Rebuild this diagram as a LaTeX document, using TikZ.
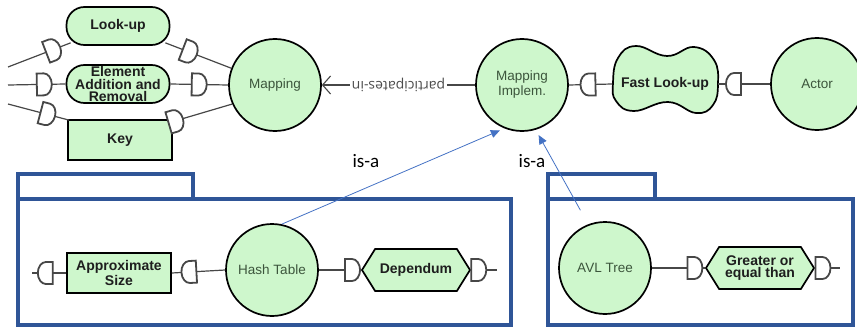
\documentclass[tikz,border=0pt]{standalone}
\usepackage{fontspec}
\setmainfont{Liberation Sans}
\newfontfamily\isafont{Carlito}
\newfontfamily\linkfont{Open Sans}
\usetikzlibrary{shapes.symbols,arrows.meta}

\definecolor{actgreen}{RGB}{206,247,204}
\definecolor{pkgblue}{RGB}{47,85,151}
\definecolor{isablue}{RGB}{68,114,196}
\definecolor{agenttext}{RGB}{60,85,60}
\definecolor{dumtext}{RGB}{30,30,30}

\tikzset{
  agent/.style={circle, draw, line width=1.7pt, fill=actgreen, minimum size=92pt, inner sep=0pt,
    align=center, text=agenttext, font=\fontsize{13.5}{15}\selectfont},
  dum/.style={draw, line width=1.7pt, fill=actgreen, inner sep=0pt, align=center, text=dumtext,
    font=\bfseries\fontsize{14}{12.5}\selectfont},
  goal/.style={dum, rounded corners=18pt, minimum width=103pt, minimum height=38pt},
  resource/.style={dum, rectangle, minimum width=104pt, minimum height=40pt},
  task/.style={dum, signal, signal to=west and east, signal pointer angle=116,
    minimum width=108pt, minimum height=42pt},
  link/.style={draw=black!72, line width=1.2pt},
  pkg/.style={draw=pkgblue, line width=4.5pt},
  isa/.style={draw=isablue, line width=0.8pt, -{Triangle[length=9pt,width=8pt]}},
  isalabel/.style={font=\isafont\fontsize{19}{19}\selectfont, inner sep=0pt},
  dport/.pic={\draw[line width=1.8pt, fill=white] (-7.5,-11) -- (-7.5,11) -- (-0.5,11)
    arc[start angle=90, end angle=-90, x radius=8, y radius=11] -- cycle;},
  dback/.pic={\draw[line width=1.8pt, fill=white] (7.5,-11) -- (7.5,11) -- (0.5,11)
    arc[start angle=90, end angle=270, x radius=8, y radius=11] -- cycle;},
}

\begin{document}
\begin{tikzpicture}[x=1pt,y=-1pt]
\useasboundingbox (0,0) rectangle (857,329);

% actor boundaries
\draw[pkg] (18,199) rectangle (193,174);
\draw[pkg] (18,199) rectangle (511,325);
\draw[pkg] (548,199) rectangle (655,174);
\draw[pkg] (548,199) rectangle (853,325);

% actors
\node[agent] (mapping) at (275,85) {Mapping};
\node[agent] (impl) at (522,85) {Mapping\\Implem.};
\node[agent] (actor) at (817,84) {Actor};
\node[agent] (hash) at (272,270) {Hash Table};
\node[agent] (avl) at (605,268) {AVL Tree};

% dependums
\node[goal] (lookup) at (118,26) {Look-up};
\node[goal] (addrem) at (118,84) {Element\\Addition and\\Removal};
\node[resource] (key) at (120,140) {Key};
\node[resource] (size) at (119,273) {Approximate\\Size};
\node[task] (dep) at (416,270) {Dependum};
\node[task] (geq) at (760,268) {Greater or\\equal than};

\draw[line width=1.7pt, fill=actgreen] plot[smooth cycle, tension=.75] coordinates
  {(613,83) (618,58) (636,46) (667,56) (694,47) (714,60) (718,84) (713,105)
   (696,113) (668,102) (634,111) (616,101)};
\node[text=dumtext, font=\bfseries\fontsize{14}{15}\selectfont, minimum width=105pt,
  minimum height=66pt, inner sep=0pt] (fast) at (665,84) {Fast Look-up};

\coordinate (in1) at (8,67);
\coordinate (in2) at (8,85);
\coordinate (in3) at (8,104);
\coordinate (szout) at (32,273);
\coordinate (depout) at (497,270);
\coordinate (geqout) at (840,268);

% dependencies
\draw[link] (in1) -- pic[pos=.72,sloped]{dport} ([shift={(5,-3)}]lookup.south west);
\draw[link] ([shift={(-5,-3)}]lookup.south east) -- pic[pos=.37,sloped]{dport} (mapping.159);
\draw[link] (in2) -- pic[pos=.63,sloped]{dport} (addrem.west);
\draw[link] (addrem.east) -- pic[pos=.5,sloped]{dport} (mapping.west);
\draw[link] (in3) -- pic[pos=.65,sloped]{dport} ([shift={(2,1)}]key.north west);
\draw[link] ([shift={(-2,3)}]key.north east) -- pic[pos=.08,sloped]{dport} (mapping.204);

\draw[link, -{Straight Barb[length=8pt,width=18pt,line width=1.1pt]}] (impl.west) --
  node[fill=white, rotate=180, inner sep=2pt, text=black!70,
  font=\linkfont\fontsize{14}{14}\selectfont] (pin) {participates-in} (mapping.east);

\draw[link] (impl.east) -- pic[pos=.44,sloped]{dback} (fast.west);
\draw[link] (fast.east) -- pic[pos=.3,sloped]{dback} (actor.west);

\draw[link] (szout) -- pic[pos=.39,sloped]{dback} (size.west);
\draw[link] (size.east) -- pic[pos=.32,sloped]{dback} (hash.west);
\draw[link] (hash.east) -- pic[pos=.8,sloped]{dport} (dep.west);
\draw[link] (dep.east) -- pic[pos=.3,sloped]{dport} (depout);
\draw[link] (avl.east) -- pic[pos=.81,sloped]{dport} (geq.west);
\draw[link] (geq.east) -- pic[pos=.32,sloped]{dport} (geqout);

% is-a
\draw[isa, shorten >=5pt] (hash.78) -- (impl.248);
\draw[isa, shorten <=16pt, shorten >=6pt] (avl.111) -- (impl.287);
\node[isalabel] (isa1) at (366,161) {is-a};
\node[isalabel] (isa2) at (532,161) {is-a};

\end{tikzpicture}
\end{document}
